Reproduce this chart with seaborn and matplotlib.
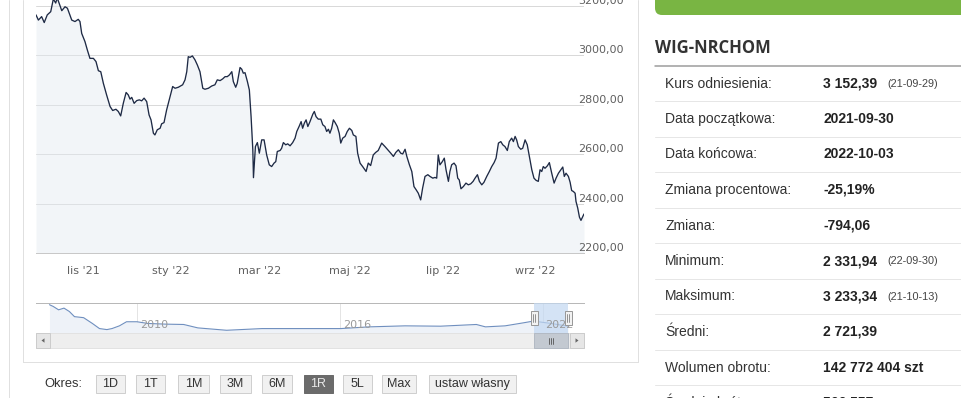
import numpy as np
import pandas as pd
import matplotlib
matplotlib.use("Agg")
import matplotlib.pyplot as plt
import seaborn as sns
from matplotlib.patches import Rectangle, FancyBboxPatch, Polygon
from matplotlib import transforms as mtrans

# ---------------- data ----------------
session = [
    0.0, 1.1, 2.6, 3.8, 5.2, 6.8, 8.0, 9.1, 9.8, 11.9,
    13.4, 14.5, 16.5, 18.0, 19.5, 20.3, 21.1, 22.6, 23.7, 24.9,
    26.5, 27.7, 28.8, 29.9, 31.1, 32.6, 34.2, 35.4, 36.9, 38.0,
    39.1, 40.3, 41.6, 42.6, 43.4, 44.2, 45.3, 46.5, 47.7, 48.8,
    49.9, 51.1, 52.2, 53.1, 54.2, 54.9, 56.0, 57.3, 58.0, 59.1,
    60.3, 61.9, 63.1, 64.2, 65.7, 67.7, 68.8, 69.6, 70.3, 71.1,
    72.2, 73.4, 74.5, 75.7, 77.0, 78.0, 79.6, 81.1, 82.6, 83.7,
    85.0, 86.2, 87.3, 88.3, 89.3, 90.4, 91.1, 92.2, 92.9, 94.2,
    95.0, 95.7, 96.5, 97.6, 98.5, 99.3, 100.1, 100.4, 101.3, 102.2,
    103.1, 104.2, 105.3, 106.5, 107.7, 108.8, 109.9, 110.7, 111.4, 112.7,
    113.4, 114.2, 115.3, 116.2, 117.3, 118.5, 119.6, 120.4, 121.6, 122.4,
    123.1, 123.9, 124.7, 125.5, 126.5, 127.8, 128.5, 129.3, 130.3, 131.5,
    132.4, 133.4, 134.2, 135.0, 135.7, 136.5, 137.3, 138.1, 139.1, 140.0,
    140.7, 141.6, 142.7, 143.7, 144.7, 145.8, 146.5, 147.7, 148.5, 149.6,
    150.8, 152.4, 153.4, 154.5, 155.7, 156.8, 158.0, 159.6, 161.1, 162.7,
    163.8, 165.0, 166.1, 167.3, 168.4, 169.3, 170.4, 171.2, 172.4, 173.5,
    174.5, 175.5, 176.5, 177.6, 178.5, 179.6, 180.9, 181.9, 183.2, 184.2,
    185.0, 185.7, 186.5, 187.6, 188.5, 189.3, 190.4, 191.1, 191.9, 193.0,
    193.9, 194.7, 195.4, 196.2, 197.3, 198.5, 199.6, 200.7, 201.8, 202.7,
    203.8, 204.7, 205.8, 206.8, 208.1, 209.3, 210.4, 211.5, 212.4, 213.5,
    214.6, 215.5, 216.5, 217.6, 218.5, 219.6, 220.4, 221.2, 221.9, 222.7,
    223.8, 224.7, 225.8, 226.8, 227.8, 228.9, 229.9, 230.9, 231.9, 232.7,
    233.5, 234.2, 235.0, 236.1, 237.0, 238.1, 239.2, 240.1, 241.2, 242.3,
    243.2, 243.9, 244.7, 245.8, 246.6, 247.3, 248.1, 248.9, 249.3, 250.1,
    250.9, 251.6, 253.0,
]
close = [
    3164, 3143, 3157, 3133, 3164, 3177, 3228, 3212, 3233, 3181,
    3197, 3191, 3143, 3137, 3146, 3137, 3089, 3056, 3022, 2988,
    2988, 2975, 2938, 2934, 2887, 2840, 2793, 2777, 2782, 2773,
    2755, 2806, 2850, 2840, 2823, 2830, 2806, 2817, 2820, 2816,
    2827, 2813, 2759, 2739, 2685, 2678, 2699, 2705, 2723, 2728,
    2779, 2833, 2874, 2867, 2871, 2881, 2901, 2934, 2995, 2992,
    2998, 2982, 2961, 2934, 2867, 2863, 2867, 2876, 2881, 2901,
    2898, 2905, 2914, 2914, 2921, 2934, 2894, 2871, 2887, 2951,
    2944, 2928, 2930, 2894, 2860, 2752, 2618, 2505, 2631, 2647,
    2604, 2658, 2658, 2597, 2557, 2550, 2564, 2570, 2611, 2615,
    2624, 2647, 2638, 2642, 2634, 2647, 2665, 2692, 2715, 2732,
    2705, 2726, 2739, 2712, 2732, 2762, 2773, 2752, 2742, 2742,
    2719, 2712, 2692, 2701, 2685, 2705, 2739, 2728, 2712, 2685,
    2645, 2665, 2672, 2692, 2705, 2696, 2678, 2672, 2604, 2564,
    2550, 2530, 2564, 2554, 2597, 2607, 2615, 2645, 2631, 2615,
    2604, 2591, 2607, 2618, 2604, 2601, 2620, 2591, 2557, 2530,
    2469, 2456, 2442, 2415, 2463, 2510, 2517, 2510, 2503, 2506,
    2503, 2597, 2557, 2570, 2584, 2537, 2490, 2530, 2557, 2564,
    2553, 2503, 2496, 2460, 2469, 2483, 2476, 2480, 2490, 2503,
    2517, 2490, 2476, 2486, 2510, 2530, 2550, 2566, 2584, 2645,
    2651, 2638, 2631, 2615, 2651, 2665, 2651, 2672, 2658, 2631,
    2620, 2624, 2658, 2638, 2591, 2537, 2503, 2494, 2490, 2537,
    2530, 2550, 2543, 2553, 2566, 2523, 2483, 2503, 2523, 2537,
    2548, 2510, 2523, 2510, 2486, 2453, 2449, 2442, 2409, 2382,
    2345, 2332, 2358,
]
month_ticks = [21.7, 62.3, 103.4, 145.0, 187.9, 230.4]
month_labels = ["lis '21", "sty '22", "mar '22", "maj '22", "lip '22", "wrz '22"]
y_ticks = [2200, 2400, 2600, 2800, 3000, 3200]
y_labels = ["2200,00", "2400,00", "2600,00", "2800,00", "3000,00", "3200,00"]

nav_year = [2007.41, 2007.52, 2007.68, 2007.84, 2008.0, 2008.15, 2008.42, 2008.68,
            2008.89, 2009.11, 2009.26, 2009.48, 2009.69, 2010.0, 2010.32, 2010.85,
            2011.38, 2011.8, 2012.65, 2013.7, 2014.76, 2016.03, 2016.87, 2017.93,
            2018.98, 2020.04, 2020.31, 2020.89, 2021.42, 2021.73, 2022.26, 2022.75]
nav_value = [5888, 5608, 5048, 5328, 4768, 3928, 3760, 2808,
             1968, 1800, 1968, 2416, 3088, 3088, 2808, 2696,
             2640, 2080, 1688, 1968, 1968, 1968, 2248, 2416,
             2360, 2640, 2248, 2416, 2900, 3200, 2800, 2358]
nav_year_ticks = [2010, 2016, 2022]
nav_range = [2021.75, 2022.76]

period_labels = ["1D", "1T", "1M", "3M", "6M", "1R", "5L", "Max", "ustaw własny"]
selected_period = "1R"

index_name = "WIG-NRCHOM"
stat_labels = ["Kurs odniesienia:", "Data początkowa:", "Data końcowa:",
               "Zmiana procentowa:", "Zmiana:", "Minimum:", "Maksimum:",
               "Średni:", "Wolumen obrotu:", "Średni obrót:"]
stat_values = ["3 152,39", "2021-09-30", "2022-10-03", "-25,19%", "-794,06",
               "2 331,94", "3 233,34", "2 721,39", "142 772 404 szt", "566 557"]
stat_dates = ["(21-09-29)", "", "", "", "", "(22-09-30)", "(21-10-13)", "", "", ""]

# ---------------- style ----------------
sns.set_style("white")
plt.rcParams["font.family"] = ["DejaVu Sans"]

W, H = 961, 398
fig = plt.figure(figsize=(W / 100, H / 100), dpi=100, facecolor="white")

bg = fig.add_axes([0, 0, 1, 1], zorder=0)
bg.set_xlim(0, W)
bg.set_ylim(H, 0)
bg.axis("off")

PX = 0.72  # one pixel in points
line_c = "#e0e0e0"
bg.plot([9, 9], [0, H], color=line_c, lw=PX)
bg.plot([23, 23], [0, 362], color=line_c, lw=PX)
bg.plot([23, 638], [362, 362], color=line_c, lw=PX)
bg.plot([638, 638], [0, 362], color=line_c, lw=PX)

# ---------------- main chart ----------------
df = pd.DataFrame({"session": session, "close": close})
ax = fig.add_axes([36 / W, 1 - 253 / H, 548 / W, 253 / H], zorder=2)
ax.patch.set_visible(False)
ax.fill_between(df["session"], df["close"], 2200, color="#e4e9f0", alpha=0.45, lw=0, zorder=1)
sns.lineplot(data=df, x="session", y="close", ax=ax, color="#1e2a45",
             linewidth=0.95, estimator=None, sort=False, zorder=3)
ax.set_xlim(0, 253)
ax.set_ylim(2200, 2200 + 253 / 247 * 1000)
ax.set_yticks(y_ticks)
ax.yaxis.grid(True, color="#d9d9d9", lw=PX)
ax.xaxis.grid(False)
ax.set_axisbelow(True)
ax.tick_params(axis="y", length=0, labelleft=False)
ax.set_xticks(month_ticks)
ax.set_xticklabels(month_labels)
ax.tick_params(axis="x", length=7, width=PX, color="#c8c8c8", pad=2,
               labelsize=8, labelcolor="#606060")
ax.set_xlabel("")
ax.set_ylabel("")
for s in ["top", "right", "left"]:
    ax.spines[s].set_visible(False)
ax.spines["bottom"].set_color("#c8c8c8")
ax.spines["bottom"].set_linewidth(PX)

ylab_tr = mtrans.offset_copy(mtrans.blended_transform_factory(ax.transAxes, ax.transData),
                             fig=fig, y=2, units="dots")
for v, lab in zip(y_ticks, y_labels):
    ax.text((578 - 36) / 548, v, lab, transform=ylab_tr, ha="left", va="baseline",
            fontsize=8, color="#606060", clip_on=False)

# ---------------- navigator ----------------
nav = fig.add_axes([36 / W, 1 - 333 / H, 548 / W, 30 / H], zorder=3)
nav.patch.set_visible(False)
nav_x0 = 2010 - 101 / 33.8
nav_x1 = 2010 + 447 / 33.8
nav.set_xlim(nav_x0, nav_x1)
nav.set_ylim(1240, 6170)
for yr in nav_year_ticks:
    nav.axvline(yr, color="#e4e4e4", lw=PX, zorder=0)
nav.fill_between(nav_year, nav_value, 1240, color="#eef2f8", lw=0, zorder=1)
sns.lineplot(x=nav_year, y=nav_value, ax=nav, color="#6f8fbf", linewidth=0.8,
             estimator=None, sort=False, zorder=2)
nav_lab_tr = mtrans.offset_copy(mtrans.blended_transform_factory(nav.transData, nav.transAxes),
                                fig=fig, x=3, units="dots")
for yr in nav_year_ticks:
    nav.text(yr, 0.25, str(yr), transform=nav_lab_tr, ha="left", va="center",
             fontsize=8, color="#9a9a9a", zorder=4)
nav.axvspan(nav_range[0], nav_range[1], color="#c3d8f1", alpha=0.7, lw=0, zorder=3)
nav.set_xticks([])
nav.set_yticks([])
nav.set_xlabel("")
nav.set_ylabel("")
for s in ["right", "left", "bottom"]:
    nav.spines[s].set_visible(False)
nav.spines["top"].set_color("#b8b8b8")
nav.spines["top"].set_linewidth(PX)

# overlay for scrollbar & handles (pixel coordinates)
ov = fig.add_axes([0, 0, 1, 1], zorder=10)
ov.set_xlim(0, W)
ov.set_ylim(H, 0)
ov.axis("off")


def nav_px(yr):
    return 36 + (yr - nav_x0) / (nav_x1 - nav_x0) * 548


sx0, sx1 = nav_px(nav_range[0]), nav_px(nav_range[1])
# scrollbar
ov.add_patch(Rectangle((36, 333), 548, 15, fc="#eeeeee", ec="#e2e2e2", lw=PX))
ov.add_patch(Rectangle((sx0, 333), sx1 - sx0, 15, fc="#c3c9d1", ec="#b3bac4", lw=PX))
for dx in (-2.2, 0, 2.2):
    cx = (sx0 + sx1) / 2 + dx
    ov.plot([cx, cx], [337.5, 343.5], color="#555555", lw=0.6)
ov.add_patch(Rectangle((36, 333), 14, 15, fc="#e6e6e6", ec="#cccccc", lw=PX))
ov.add_patch(Rectangle((570, 333), 14, 15, fc="#e6e6e6", ec="#cccccc", lw=PX))
ov.add_patch(Polygon([(41.5, 340.5), (44.5, 338.3), (44.5, 342.7)], closed=True, fc="#666666", ec="none"))
ov.add_patch(Polygon([(578.5, 340.5), (575.5, 338.3), (575.5, 342.7)], closed=True, fc="#666666", ec="none"))
# handles
for hx in (sx0, sx1):
    ov.add_patch(Rectangle((hx - 3.5, 311), 7, 14, fc="#f2f2f2", ec="#999999", lw=PX))
    for gx in (hx - 1, hx + 1):
        ov.plot([gx, gx], [314, 322], color="#777777", lw=0.55)

# ---------------- period buttons ----------------
btn_font = ["Liberation Sans", "DejaVu Sans"]
bg.text(44, 384, "Okres:", ha="left", va="center", fontsize=9.3, color="#333333", family=btn_font)
btn_x = [(96, 124.5), (136, 165), (177.5, 209), (220, 251), (262, 292),
         (304, 333), (343, 372), (382, 416), (428.5, 516)]
for lab, (x0, x1) in zip(period_labels, btn_x):
    sel = lab == selected_period
    bg.add_patch(Rectangle((x0, 375), x1 - x0, 18,
                           fc="#6b6b6b" if sel else "#f1f1f1",
                           ec="#6b6b6b" if sel else "#cfcfcf", lw=PX))
    bg.text((x0 + x1) / 2, 384.3, lab, ha="center", va="center", fontsize=9,
            color="#e8e8e8" if sel else "#333333", family=btn_font)

# ---------------- side panel ----------------
bg.add_patch(FancyBboxPatch((655, -30), 340, 45, boxstyle="round,pad=0,rounding_size=7",
                            fc="#79b543", ec="none"))
bg.text(655, 48, index_name, ha="left", va="center", fontsize=12, fontweight="bold",
        color="#333333", family=["Open Sans", "DejaVu Sans"])
bg.plot([655, 961], [65.5, 65.5], color="#9c9c9c", lw=1.1)
lab_font = ["Liberation Sans", "DejaVu Sans"]
for i, (lab, val, dt) in enumerate(zip(stat_labels, stat_values, stat_dates)):
    cy = 83.5 + i * 35.5
    bg.text(665, cy, lab, ha="left", va="center", fontsize=10, color="#333333", family=lab_font)
    bg.text(823, cy, val, ha="left", va="center", fontsize=10, fontweight="bold",
            color="#222222", family=lab_font)
    if dt:
        bg.text(887, cy + 0.5, dt, ha="left", va="center", fontsize=7.8, color="#444444",
                family=lab_font)
    sep = cy + 17.75
    if sep < H:
        bg.plot([655, 961], [sep, sep], color="#e6e6e6", lw=PX)

fig.savefig("out.png", dpi=100, facecolor="white")
